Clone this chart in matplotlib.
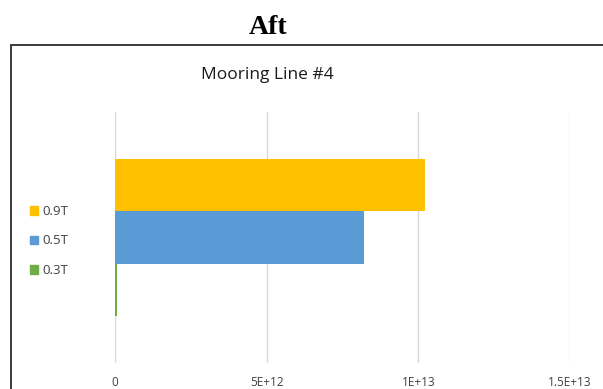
import matplotlib
matplotlib.use("Agg")
import matplotlib.pyplot as plt
from matplotlib.patches import Rectangle, Patch
import numpy as np

# series (bottom to top as drawn)
series = ["0.3T", "0.5T", "0.9T"]
values = [8e10, 8.2e12, 1.023e13]
colors = ["#70AD47", "#5B9BD5", "#FFC000"]
xticks = [0, 5e12, 1e13, 1.5e13]
xticklabels = ["0", "5E+12", "1E+13", "1.5E+13"]

W, H = 603, 389
fig = plt.figure(figsize=(W / 100, H / 100), dpi=100)

# outer chart border (cut off at right and bottom)
fig.patches.append(Rectangle((11 / W, -0.05), 1.1, 1 - 45 / H + 0.05,
                             transform=fig.transFigure, fill=False,
                             edgecolor="#3a3a3a", linewidth=1.4))

fig.text(268 / W, 1 - 27 / H, "Aft", ha="center", va="center",
         fontsize=20, fontweight="bold", family="Liberation Serif")
fig.text(267 / W, 1 - 75 / H, "Mooring Line #4", ha="center", va="center",
         fontsize=12.5, family="Open Sans", color="#1a1a1a")

ax = fig.add_axes([115 / W, 1 - 363 / H, (570 - 115) / W, (363 - 112) / H])
h = 0.208
offsets = np.array([-1, 0, 1]) * h
for name, v, c, off in zip(series, values, colors, offsets):
    ax.barh(off, v, height=h, color=c, label=name, zorder=3)

ax.set_xlim(0, 1.5e13)
ax.set_ylim(-0.5, 0.5)
ax.set_xticks(xticks)
ax.set_xticklabels(xticklabels, family="Open Sans", fontsize=8.5, color="#404040")
ax.tick_params(axis="x", length=0, pad=9)
ax.set_yticks([])
for s in ax.spines.values():
    s.set_visible(False)
ax.grid(axis="x", color="#d9d9d9", linewidth=1, zorder=0)
ax.set_axisbelow(True)

handles = [Patch(color=c) for c in colors[::-1]]
leg = fig.legend(handles, series[::-1], loc="center left",
                 bbox_to_anchor=(18 / W, 1 - 241 / H), frameon=False,
                 prop={"family": "Open Sans", "size": 9.5},
                 handlelength=0.6, handleheight=0.6, handletextpad=0.35,
                 labelspacing=1.25, labelcolor="#404040")

fig.savefig("out.png", dpi=100)
